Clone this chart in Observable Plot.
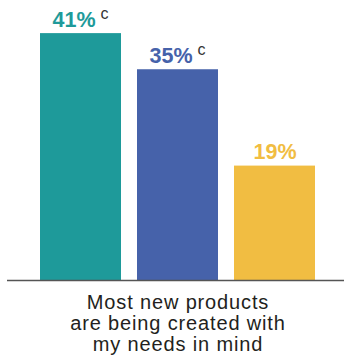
<!DOCTYPE html>
<html>
<head>
<meta charset="utf-8">
<script src="https://cdn.jsdelivr.net/npm/d3@7"></script>
<script src="https://cdn.jsdelivr.net/npm/@observablehq/plot@0.6"></script>
<style>
  html, body { margin: 0; padding: 0; background: #fff; }
  #chart { width: 344px; }
  .caption {
    font-family: "Liberation Sans", Arial, Helvetica, sans-serif;
    font-size: 20px;
    line-height: 21px;
    letter-spacing: 0.85px;
    color: #231f20;
    text-align: center;
    width: 344px;
    padding-left: 12px;
    box-sizing: border-box;
    margin-top: 2px;
  }
</style>
</head>
<body>
<div id="chart"></div>
<script>
const categories = ["A", "B", "C"];
const values = [41, 35, 19];
const labels = ["41%", "35%", "19%"];
const notes = ["c", "c", ""];
const colors = ["#1e9a9a", "#4662aa", "#f1bd42"];
const captionLines = ["Most new products", "are being created with", "my needs in mind"];

const data = categories.map((c, i) => ({cat: c, value: values[i], label: labels[i], note: notes[i], color: colors[i]}));
const withNote = data.filter(d => d.note);
const withoutNote = data.filter(d => !d.note);

const plot = Plot.plot({
  width: 344,
  height: 290,
  marginTop: 0,
  marginBottom: 10,
  marginLeft: 31,
  marginRight: 20,
  style: {fontFamily: "'Liberation Sans', Arial, Helvetica, sans-serif", background: "white", overflow: "visible"},
  x: {domain: categories, paddingInner: 0.16, paddingOuter: 0.08, axis: null},
  y: {domain: [0, 46.5], axis: null},
  marks: [
    Plot.barY(data, {x: "cat", y: "value", fill: "color"}),
    Plot.text(withNote, {x: "cat", y: "value", text: "label", fill: "color", fontSize: 21.5, fontWeight: "bold", lineAnchor: "bottom", dy: -7, dx: -7}),
    Plot.text(withoutNote, {x: "cat", y: "value", text: "label", fill: "color", fontSize: 21.5, fontWeight: "bold", lineAnchor: "bottom", dy: -7}),
    Plot.text(withNote, {x: "cat", y: "value", text: "note", fill: "#333", fontSize: 16, lineAnchor: "bottom", dy: -15, dx: 23.5}),
    Plot.ruleY([0], {stroke: "#555", strokeWidth: 1.5, insetLeft: -24, insetRight: -20})
  ]
});
document.getElementById("chart").appendChild(plot);

const cap = document.createElement("div");
cap.className = "caption";
captionLines.forEach(t => { const d = document.createElement("div"); d.textContent = t; cap.appendChild(d); });
document.body.appendChild(cap);
</script>
</body>
</html>
